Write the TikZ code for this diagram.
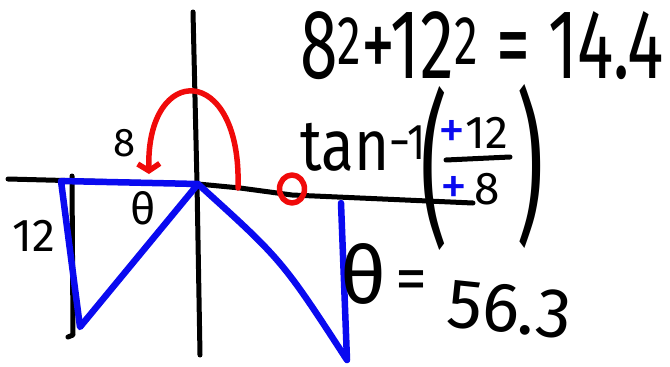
\documentclass[tikz,border=0pt]{standalone}
\usepackage{fontspec}
\setmainfont{Fira Sans}
\usetikzlibrary{arrows.meta}
\definecolor{penblue}{HTML}{0A0AF0}
\definecolor{penred}{HTML}{F00A0A}
\tikzset{
  pen/.style={line width=5pt, line cap=round, line join=round},
  bluepen/.style={pen, penblue, line width=6.5pt},
  redpen/.style={pen, penred, line width=5.5pt},
  hand/.style={inner sep=0pt, font=\fontsize{#1}{#1}\selectfont}
}
\newcommand{\sqr}{\textsuperscript{2}}
\newcommand{\bplus}{{\color{penblue}\fontsize{54}{54}\selectfont+}}

\begin{document}
\begin{tikzpicture}[x=1pt, y=-1pt]

  % page size of the sketch
  \useasboundingbox (0,0) rectangle (670,367);

  % corners of the two triangles
  \coordinate (O)  at (198,184);
  \coordinate (TL) at (61,181);
  \coordinate (BL) at (80,327);
  \coordinate (TR) at (341,203);
  \coordinate (BR) at (347,360);

  % axes
  \draw[pen] (8,179) -- (O) -- (240,188) -- (292,195) -- (360,198) -- (473,203);
  \draw[pen] (193,12) -- (197,183) -- (200,355);
  \draw[pen] (72,176) -- (73,335) -- (68,337);

  % triangles
  \draw[bluepen] (O) -- (TL) -- (BL) -- cycle;
  \draw[bluepen] (O) .. controls (282,260) .. (BR) -- (TR);

  % rotation from the positive x axis
  \draw[redpen, -{Straight Barb[length=7pt, width=22pt]}]
    (238,188) .. controls (242,62) and (146,62) .. (149,174);
  \draw[redpen] (292,189) ellipse [x radius=12.5pt, y radius=14pt];

  % side lengths and angle
  \node[hand=40] (eight)  at (125,143) {8};
  \node[hand=46] (twelve) at (34,236) {12};
  \node[hand=44] (angle)  at (143,208) {θ};

  % working
  \node[hand=68, yscale=1.45, anchor=base west] (pyth) at (300,78)
    {8\sqr+12\sqr\ = 14.4};
  \node[hand=60, yscale=1.2, anchor=base west] (tan) at (300,170)
    {tan\textsuperscript{−1}};
  \node[hand=85, yscale=1.95] (lpar) at (434,168) {(};
  \node[hand=85, yscale=1.95] (rpar) at (530,166) {)};
  \node[hand=46] (num) at (473,133) {\bplus12};
  \node[hand=46] (den) at (470,189) {\bplus\,8};
  \draw[pen] (446,160) -- (510,157);
  \node[hand=80, anchor=base west] (theta) at (340,303) {θ};
  \node[hand=64, anchor=base] (equals) at (411,300) {=};
  \node[hand=70, anchor=base west, rotate=-6] (result) at (445,326) {56.3};

\end{tikzpicture}
\end{document}
